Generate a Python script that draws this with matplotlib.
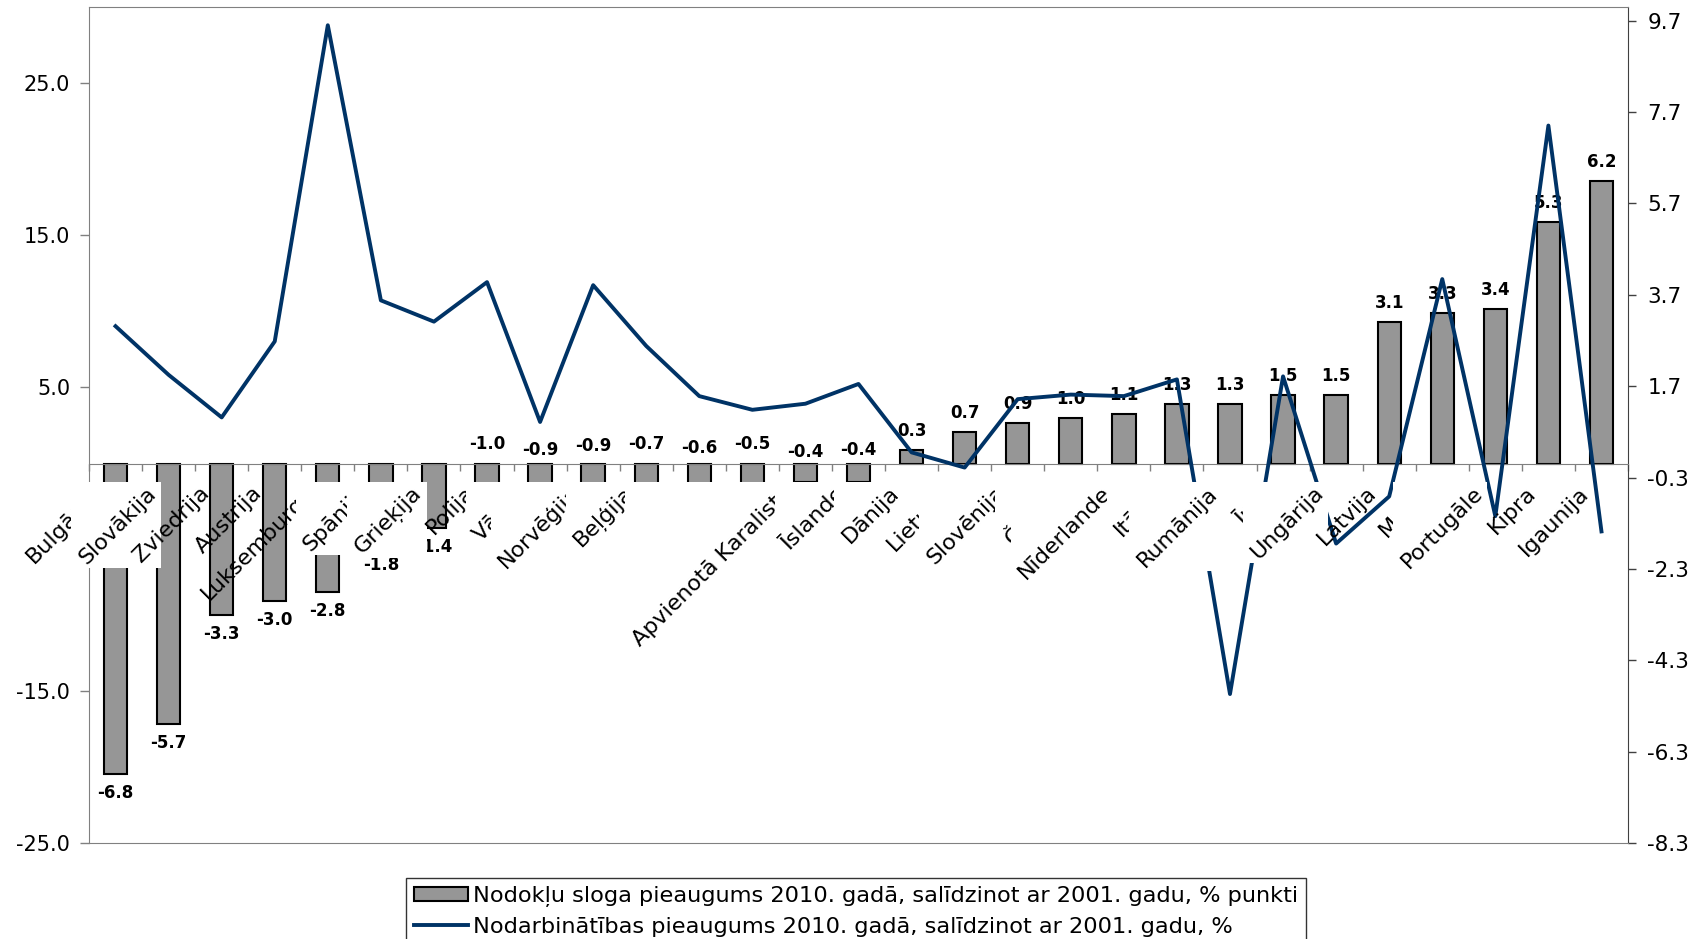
import matplotlib
matplotlib.use("Agg")
import matplotlib.pyplot as plt
import numpy as np
from matplotlib.patches import Rectangle, Patch
from matplotlib.lines import Line2D
from matplotlib.transforms import offset_copy

# ---------------- data ----------------
categories = ["Bulgārija", "Slovākija", "Zviedrija", "Austrija", "Luksemburga", "Spānija",
              "Grieķija", "Polija", "Vācija", "Norvēģija", "Beļģija", "Somija", "Francija",
              "Apvienotā Karaliste", "Īslande", "Dānija", "Lietuva", "Slovēnija", "Čehija",
              "Nīderlande", "Itālija", "Rumānija", "Īrija", "Ungārija", "Latvija", "Malta",
              "Portugāle", "Kipra", "Igaunija"]
tax_change = [-6.8, -5.7, -3.3, -3.0, -2.8, -1.8, -1.4, -1.0, -0.9, -0.9, -0.7, -0.6, -0.5,
              -0.4, -0.4, 0.3, 0.7, 0.9, 1.0, 1.1, 1.3, 1.3, 1.5, 1.5, 3.1, 3.3, 3.4, 5.3, 6.2]
employment_change = [9.0, 5.8, 3.0, 8.0, 28.8, 10.7, 9.3, 11.9, 2.7, 11.7, 7.7, 4.4, 3.5,
                     3.9, 5.2, 0.7, -0.3, 4.2, 4.5, 4.4, 5.5, -15.2, 5.7, -5.3, -2.2, 12.1,
                     -3.5, 22.2, -4.5]
left_ticks = [-25, -15, -5, 5, 15, 25]
right_ticks = [-8.3, -6.3, -4.3, -2.3, -0.3, 1.7, 3.7, 5.7, 7.7, 9.7]
legend_labels = ["Nodokļu sloga pieaugums 2010. gadā, salīdzinot ar 2001. gadu, % punkti",
                 "Nodarbinātības pieaugums 2010. gadā, salīdzinot ar 2001. gadu, %"]

# ---------------- style ----------------
W, H = 1699, 939
BAR_COLOR = "#969696"
LINE_COLOR = "#003366"
FRAME = "#808080"
small_label_lift_px = [20, 14, 18, 20, 16, 20, 12, 14]  # labels of small negative bars sit above axis
BOX_PAD = (4, 0, 1, 1)  # left, bottom, right, top padding (px) of opaque label boxes

plt.rcParams["font.family"] = ["DejaVu Sans"]

fig = plt.figure(figsize=(W / 100, H / 100), dpi=100)
ax = fig.add_axes([89 / W, 1 - 843 / H, (1628 - 89) / W, (843 - 7) / H])
ax2 = ax.twinx()

x = np.arange(len(categories))
ax.bar(x, tax_change, width=0.44, color=BAR_COLOR, edgecolor="black", linewidth=1.5, zorder=2)
ax.set_xlim(-0.5, len(categories) - 0.5)
ax.set_ylim(-8.3, 10.0)

ax.yaxis.tick_right()
ax.set_yticks(right_ticks)
ax.set_yticklabels([f"{v:.1f}" for v in right_ticks])
ax.tick_params(axis="y", direction="out", length=6, width=1, color="#404040",
               labelsize=15.5, pad=8)

ax.spines["bottom"].set_position(("data", 0))
ax.spines["bottom"].set_color(FRAME)
ax.spines["left"].set_color(FRAME)
ax.spines["top"].set_color(FRAME)
ax.spines["right"].set_color("#404040")
ax.set_xticks(np.arange(-0.5, len(categories), 1.0))
ax.tick_params(axis="x", direction="out", length=5, width=1, color=FRAME, labelbottom=False)

# data labels
j = 0
for i, v in enumerate(tax_change):
    if -1.0 <= v < 0:
        ax.annotate(f"{v:.1f}", (i, 0), xytext=(0, small_label_lift_px[j] * 0.72),
                    textcoords="offset points", ha="center", va="center",
                    fontsize=12, fontweight="bold", zorder=3)
        j += 1
    else:
        off = 19 * 0.72 if v > 0 else -19 * 0.72
        ax.annotate(f"{v:.1f}", (i, v), xytext=(0, off), textcoords="offset points",
                    ha="center", va="center", fontsize=12, fontweight="bold", zorder=3)

# line on the secondary (left) axis
ax2.plot(x, employment_change, color=LINE_COLOR, linewidth=2.8, solid_joinstyle="round",
         zorder=3)
ax2.set_ylim(-25, 30)
ax2.yaxis.tick_left()
ax2.yaxis.set_label_position("left")
ax2.set_yticks(left_ticks)
ax2.set_yticklabels([f"{v:.1f}" for v in left_ticks])
ax2.tick_params(axis="y", direction="out", length=6.5, width=1, color=FRAME,
                labelsize=15, pad=7)
for s in ["left", "right", "top"]:
    ax2.spines[s].set_visible(False)
ax2.spines["bottom"].set_color(FRAME)

# category labels with opaque boxes (figure level, over both axes)
texts = []
for i, name in enumerate(categories):
    tr = offset_copy(ax.transData, fig=fig, x=-23, y=-19, units="dots")
    t = fig.text(i, 0, name, transform=tr, rotation=45, rotation_mode="anchor",
                 ha="right", va="top", fontsize=16, zorder=10 + 2 * i + 1)
    texts.append(t)

fig.canvas.draw()
renderer = fig.canvas.get_renderer()
inv = fig.transFigure.inverted()
pl, pb, pr, pt = BOX_PAD
for i, t in enumerate(texts):
    if any(ord(c) > 127 for c in categories[i]):
        bb = t.get_window_extent(renderer)
        (x0, y0), (x1, y1) = inv.transform([[bb.x0 - pl, bb.y0 - pb],
                                            [bb.x1 + pr, bb.y1 + pt]])
        fig.add_artist(Rectangle((x0, y0), x1 - x0, y1 - y0, transform=fig.transFigure,
                                 facecolor="white", edgecolor="none", zorder=10 + 2 * i))

handles = [Patch(facecolor=BAR_COLOR, edgecolor="black", linewidth=1.5),
           Line2D([], [], color=LINE_COLOR, linewidth=2.8)]
leg = fig.legend(handles, legend_labels, loc="upper left",
                 bbox_to_anchor=(406 / W, 1 - 878 / H), frameon=True, fancybox=False,
                 edgecolor="black", handlelength=2.4, handleheight=0.6,
                 handletextpad=0.2, labelspacing=0.42, borderpad=0.36, borderaxespad=0,
                 prop={"family": ["DejaVu Sans"], "size": 16.2})
leg.get_frame().set_linewidth(1)
leg.set_zorder(100)

fig.savefig("out.png", dpi=100)
